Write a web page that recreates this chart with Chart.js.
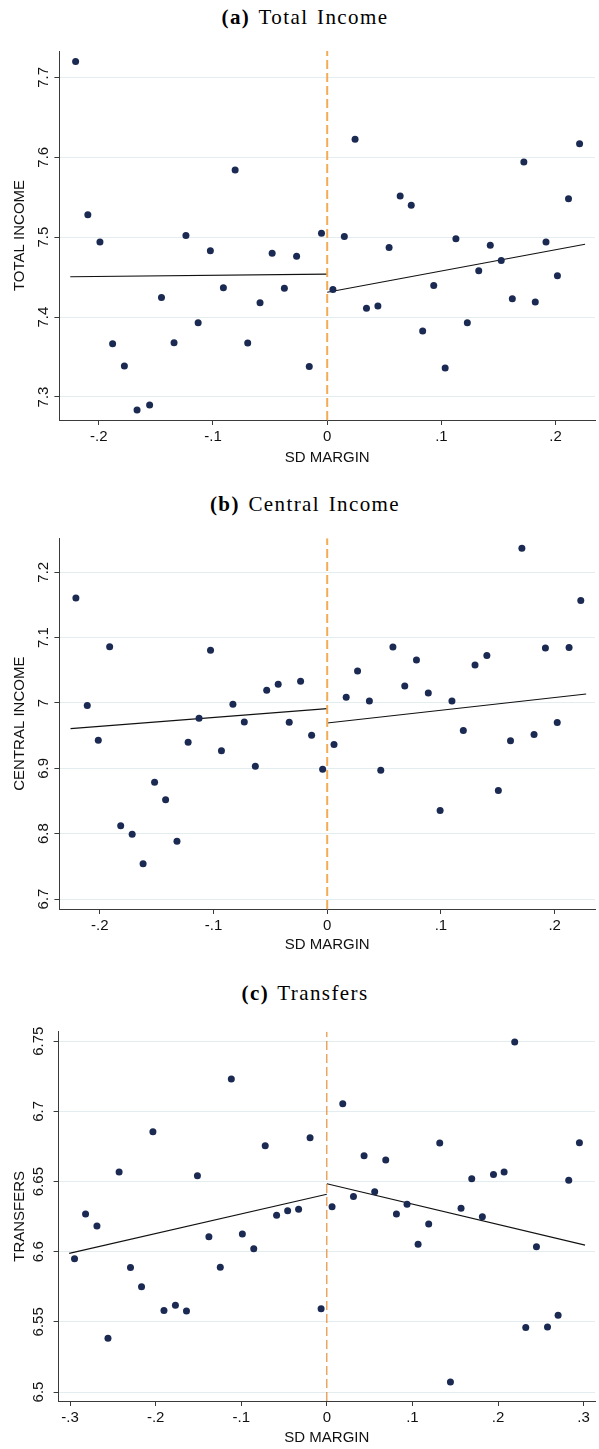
<!DOCTYPE html>
<html>
<head>
<meta charset="utf-8">
<script src="https://cdn.jsdelivr.net/npm/chart.js@4.4.1/dist/chart.umd.min.js"></script>
<style>
  html, body { margin: 0; padding: 0; background: #fff; }
  #page { position: relative; width: 599px; height: 1449px; overflow: hidden; background: #fff; }
  .ttl { position: absolute; left: 0; width: 610px; text-align: center; font-family: "Liberation Serif", "Times New Roman", serif; font-size: 21px; letter-spacing: 1.4px; word-spacing: 2px; color: #000; line-height: 24px; }
  .ttl b { font-weight: bold; }
  canvas { position: absolute; left: 0; }
</style>
</head>
<body>
<div id="page">
  <div class="ttl" style="top:5px"><b>(a)</b> Total Income</div>
  <canvas id="ca" width="599" height="434" style="top:36px"></canvas>
  <div class="ttl" style="top:492px"><b>(b)</b> Central Income</div>
  <canvas id="cb" width="599" height="434" style="top:524px"></canvas>
  <div class="ttl" style="top:981px"><b>(c)</b> Transfers</div>
  <canvas id="cc" width="599" height="434" style="top:1015px"></canvas>
</div>
<script>
// ---------- (a) Total income ----------
const totalX = [-0.2203,-0.2096,-0.199,-0.1879,-0.1776,-0.1665,-0.1555,-0.1451,-0.1341,-0.1237,-0.113,-0.1023,-0.0909,-0.0806,-0.0696,-0.0588,-0.0482,-0.0375,-0.0268,-0.0157,-0.005,
  0.005,0.015,0.0244,0.0344,0.0444,0.0542,0.0639,0.0736,0.0836,0.0933,0.1033,0.1127,0.1227,0.1327,0.1428,0.1524,0.1621,0.1722,0.1822,0.1916,0.2016,0.2113,0.2210];
const totalY = [7.720,7.528,7.494,7.3666,7.3387,7.2838,7.290,7.4245,7.3679,7.502,7.393,7.483,7.4366,7.584,7.3675,7.418,7.480,7.436,7.476,7.3383,7.505,
  7.4345,7.501,7.6225,7.411,7.414,7.487,7.5516,7.540,7.3825,7.4395,7.3363,7.498,7.393,7.458,7.490,7.4708,7.423,7.594,7.419,7.494,7.4516,7.548,7.617];
const totalFitLeftX = [-0.225, 0];
const totalFitLeftY = [7.4504, 7.4537];
const totalFitRightX = [0, 0.2258];
const totalFitRightY = [7.431, 7.4912];
const totalXTicks = [-0.2,-0.1,0,0.1,0.2];
const totalXTickLabels = ['-.2','-.1','0','.1','.2'];
const totalYTicks = [7.3,7.4,7.5,7.6,7.7];
const totalYTickLabels = ['7.3','7.4','7.5','7.6','7.7'];
const totalXRange = [-0.2345, 0.2345];
const totalYRange = [7.2712, 7.733];

// ---------- (b) Central income ----------
const centralX = [-0.221,-0.211,-0.2013,-0.1913,-0.1816,-0.1715,-0.1619,-0.1518,-0.1421,-0.1321,-0.1223,-0.1127,-0.1026,-0.093,-0.0829,-0.0729,-0.0632,-0.0532,-0.0431,-0.0334,-0.0234,-0.0137,-0.004,
  0.006,0.0167,0.0267,0.0371,0.0471,0.0578,0.0682,0.0785,0.0889,0.0993,0.1097,0.1197,0.130,0.1404,0.1505,0.1612,0.1712,0.1819,0.1919,0.2023,0.2127,0.2230];
const centralY = [7.1606,6.996,6.943,7.0862,6.812,6.799,6.754,6.8788,6.852,6.7885,6.940,6.9766,7.0806,6.927,6.998,6.971,6.903,7.0194,7.0286,6.9705,7.0332,6.9506,6.8986,
  6.9364,7.0087,7.049,7.003,6.897,7.0856,7.026,7.0657,7.0153,6.8355,7.003,6.9578,7.058,7.0725,6.866,6.942,7.2366,6.9517,7.084,6.97,7.085,7.157];
const centralFitLeftX = [-0.2257, 0];
const centralFitLeftY = [6.9608, 6.9914];
const centralFitRightX = [0, 0.2277];
const centralFitRightY = [6.9694, 7.0138];
const centralXTicks = [-0.2,-0.1,0,0.1,0.2];
const centralXTickLabels = ['-.2','-.1','0','.1','.2'];
const centralYTicks = [6.7,6.8,6.9,7.0,7.1,7.2];
const centralYTickLabels = ['6.7','6.8','6.9','7','7.1','7.2'];
const centralXRange = [-0.2355, 0.2355];
const centralYRange = [6.6847, 7.252];

// ---------- (c) Transfers ----------
const transfersX = [-0.2948,-0.2819,-0.2686,-0.2557,-0.2427,-0.2294,-0.2165,-0.2032,-0.1903,-0.1769,-0.164,-0.1512,-0.1378,-0.1245,-0.1116,-0.0987,-0.0854,-0.072,-0.0587,-0.0458,-0.033,-0.0196,-0.0067,
  0.0061,0.0186,0.0311,0.0435,0.0559,0.0688,0.0813,0.0937,0.1066,0.119,0.1319,0.1444,0.1568,0.1693,0.1817,0.1947,0.2071,0.2195,0.2324,0.2449,0.2578,0.2702,0.2826,0.2951];
const transfersY = [6.5949,6.6268,6.6183,6.5384,6.6568,6.5888,6.575,6.6855,6.5581,6.5619,6.5578,6.6541,6.6106,6.589,6.7231,6.6126,6.6021,6.6755,6.6259,6.6292,6.6302,6.6812,6.5593,
  6.632,6.7055,6.6394,6.6684,6.6427,6.6653,6.6268,6.6339,6.6054,6.6197,6.6775,6.5072,6.6309,6.652,6.6249,6.6551,6.6568,6.7495,6.546,6.6035,6.5464,6.5548,6.6509,6.6777];
const transfersFitLeftX = [-0.301, 0];
const transfersFitLeftY = [6.5988, 6.6409];
const transfersFitRightX = [0, 0.3017];
const transfersFitRightY = [6.6484, 6.6047];
const transfersXTicks = [-0.3,-0.2,-0.1,0,0.1,0.2,0.3];
const transfersXTickLabels = ['-.3','-.2','-.1','0','.1','.2','.3'];
const transfersYTicks = [6.5,6.55,6.6,6.65,6.7,6.75];
const transfersYTickLabels = ['6.5','6.55','6.6','6.65','6.7','6.75'];
const transfersXRange = [-0.3134, 0.3133];
const transfersYRange = [6.4936, 6.7568];

const cutoff = 0;

function pts(xs, ys) { return xs.map((x, i) => ({x: x, y: ys[i]})); }

function makeChart(id, p) {
  const axisColor = '#3a3a3a';
  const tickFont = {family: '"Liberation Sans", Arial, sans-serif', size: 15};
  new Chart(document.getElementById(id), {
    type: 'scatter',
    data: {
      datasets: [
        { data: pts(p.x, p.y), backgroundColor: '#1b2a52', borderColor: '#1b2a52', pointRadius: 3.5, pointBorderWidth: 0, order: 0 },
        { type: 'line', data: pts(p.fitLX, p.fitLY), borderColor: '#111', borderWidth: 1.1, pointRadius: 0, fill: false, order: 2 },
        { type: 'line', data: pts(p.fitRX, p.fitRY), borderColor: '#111', borderWidth: 1.1, pointRadius: 0, fill: false, order: 2 },
        { type: 'line', data: pts([cutoff, cutoff], p.yRange), borderColor: p.cutColor, borderWidth: p.cutWidth, borderDash: [9, 4], pointRadius: 0, fill: false, order: 1 }
      ]
    },
    options: {
      responsive: false, animation: false, devicePixelRatio: 1,
      layout: { padding: { top: p.padTop, right: 1.5, left: 0, bottom: 0 } },
      plugins: { legend: { display: false }, tooltip: { enabled: false } },
      scales: {
        x: {
          type: 'linear', min: p.xRange[0], max: p.xRange[1],
          afterBuildTicks: s => { s.ticks = p.xTicks.map(v => ({value: v})); },
          afterFit: s => { s.height = p.xAxisH; },
          ticks: { font: tickFont, color: '#111', padding: 3, callback: (v, i) => p.xTickLabels[i] },
          grid: { drawOnChartArea: false, drawTicks: true, tickLength: 5, tickColor: axisColor, color: axisColor },
          border: { display: true, color: axisColor, width: 1 },
          title: { display: true, text: 'SD MARGIN', font: tickFont, color: '#111', padding: { top: 0, bottom: p.xTitlePad } }
        },
        y: {
          type: 'linear', min: p.yRange[0], max: p.yRange[1],
          afterBuildTicks: s => { s.ticks = p.yTicks.map(v => ({value: v})); },
          afterFit: s => { s.width = p.yAxisW; },
          ticks: { font: tickFont, color: '#111', padding: 0, minRotation: 90, maxRotation: 90, crossAlign: 'center', callback: (v, i) => p.yTickLabels[i] },
          grid: { color: '#e3ecef', lineWidth: 1, drawTicks: true, tickLength: 5, tickColor: axisColor },
          border: { display: true, color: axisColor, width: 1 },
          title: { display: true, text: p.yTitle, font: tickFont, color: '#111', padding: { top: 11, bottom: 0 } }
        }
      }
    }
  });
}

makeChart('ca', { x: totalX, y: totalY, fitLX: totalFitLeftX, fitLY: totalFitLeftY, fitRX: totalFitRightX, fitRY: totalFitRightY,
  xTicks: totalXTicks, xTickLabels: totalXTickLabels, yTicks: totalYTicks, yTickLabels: totalYTickLabels,
  xRange: totalXRange, yRange: totalYRange, yTitle: 'TOTAL INCOME', padTop: 15, xAxisH: 50, xTitlePad: 3, yAxisW: 59.4,
  cutColor: '#f3ab55', cutWidth: 2 });
makeChart('cb', { x: centralX, y: centralY, fitLX: centralFitLeftX, fitLY: centralFitLeftY, fitRX: centralFitRightX, fitRY: centralFitRightY,
  xTicks: centralXTicks, xTickLabels: centralXTickLabels, yTicks: centralYTicks, yTickLabels: centralYTickLabels,
  xRange: centralXRange, yRange: centralYRange, yTitle: 'CENTRAL INCOME', padTop: 14.3, xAxisH: 49, xTitlePad: 4, yAxisW: 59.4,
  cutColor: '#f3ab55', cutWidth: 2 });
makeChart('cc', { x: transfersX, y: transfersY, fitLX: transfersFitLeftX, fitLY: transfersFitLeftY, fitRX: transfersFitRightX, fitRY: transfersFitRightY,
  xTicks: transfersXTicks, xTickLabels: transfersXTickLabels, yTicks: transfersYTicks, yTickLabels: transfersYTickLabels,
  xRange: transfersXRange, yRange: transfersYRange, yTitle: 'TRANSFERS', padTop: 16.7, xAxisH: 48, xTitlePad: 2, yAxisW: 58.6,
  cutColor: '#e07b14', cutWidth: 1 });
</script>
</body>
</html>
